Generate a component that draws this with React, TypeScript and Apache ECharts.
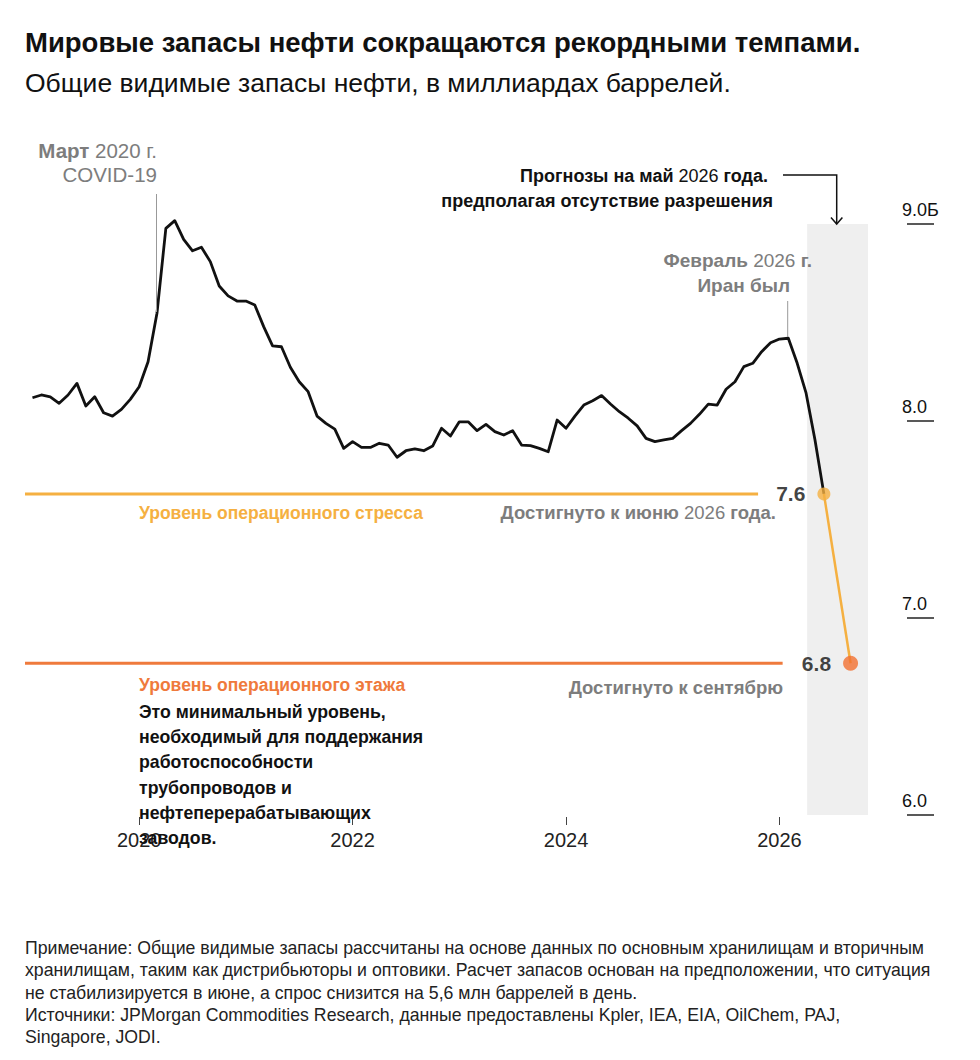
import React, { useEffect, useRef } from "react";
import * as echarts from "echarts";

// ---- Data ----
const startYear = 2019; // monthly series begins Jan 2019
const histValues = [
  // 2019
  8.118, 8.132, 8.123, 8.09, 8.132, 8.191, 8.076, 8.123, 8.042, 8.025, 8.059, 8.11,
  // 2020
  8.174, 8.301, 8.547, 8.978, 9.017, 8.922, 8.864, 8.882, 8.809, 8.685, 8.635, 8.609,
  // 2021
  8.609, 8.589, 8.479, 8.381, 8.377, 8.273, 8.199, 8.149, 8.025, 7.988, 7.959, 7.861,
  // 2022
  7.895, 7.866, 7.866, 7.887, 7.878, 7.816, 7.849, 7.858, 7.849, 7.873, 7.963, 7.924,
  // 2023
  7.996, 7.996, 7.951, 7.983, 7.946, 7.929, 7.951, 7.878, 7.875, 7.861, 7.844, 8.005,
  // 2024
  7.963, 8.025, 8.081, 8.103, 8.129, 8.086, 8.047, 8.014, 7.975, 7.912, 7.895, 7.904,
  // 2025
  7.912, 7.951, 7.988, 8.034, 8.086, 8.081, 8.161, 8.199, 8.276, 8.293, 8.352, 8.397,
  // 2026 (Jan - Jun)
  8.416, 8.42, 8.293, 8.141, 7.904, 7.63,
];
const forecastDates = [2026 + 5 / 12, 2026 + 8 / 12]; // June 2026, September 2026
const forecastValues = [7.63, 6.77];
const forecastLabels = ["7.6", "6.8"];
const stressLevel = 7.63;
const floorLevel = 6.77;
const stressLineEnd = 2025.8;
const floorLineEnd = 2026.03;
const forecastShadeStart = 2026.26;
const xMin = 2018.93;
const xMax = 2026.83;
const xTickYears = [2020, 2022, 2024, 2026];
const yMin = 6;
const yMax = 9;

const FONT = "'Liberation Sans', Arial, sans-serif";
const GREY = "#7d7d7d";
const STRESS = "#F5B041";
const FLOOR = "#EF7A3C";
const FLOOR_DOT = "#F27031";

function txt(x: number, y: number, text: string, o: any = {}) {
  return {
    type: "text",
    x,
    y,
    z: 100,
    silent: true,
    style: {
      text,
      fill: o.fill || "#111",
      fontSize: o.fontSize || 18,
      fontWeight: o.fontWeight || "normal",
      fontFamily: FONT,
      align: o.align || "left",
      verticalAlign: o.verticalAlign || "middle",
      lineHeight: o.lineHeight,
      rich: o.rich,
    },
  };
}

export default function App() {
  const ref = useRef<HTMLDivElement>(null);

  useEffect(() => {
    document.body.style.margin = "0";
    const chart = echarts.init(ref.current!, null, { renderer: "svg" });

    const histData = histValues.map((v, i) => [startYear + i / 12, v]);
    const forecastData = forecastDates.map((d, i) => [d, forecastValues[i]]);

    const richBG = (color: string, size: number) => ({
      b: { fontWeight: "bold", fill: color, color, fontSize: size, fontFamily: FONT },
      n: { fontWeight: "normal", fill: color, color, fontSize: size, fontFamily: FONT },
    });

    const option: any = {
      animation: false,
      backgroundColor: "#ffffff",
      grid: { left: 25, top: 224, width: 843, height: 591, containLabel: false },
      xAxis: {
        type: "value",
        min: xMin,
        max: xMax,
        offset: 2,
        axisLine: { show: false },
        splitLine: { show: false },
        axisTick: {
          show: true,
          customValues: xTickYears,
          length: 8,
          lineStyle: { color: "#444", width: 1 },
        },
        axisLabel: {
          customValues: xTickYears,
          formatter: (v: number) => String(Math.round(v)),
          fontSize: 20,
          fontFamily: FONT,
          color: "#222",
          margin: 13,
        },
      },
      yAxis: {
        type: "value",
        position: "right",
        offset: 39,
        min: yMin,
        max: yMax,
        interval: 1,
        axisLine: { show: false },
        splitLine: { show: false },
        axisTick: { show: true, length: 27, lineStyle: { color: "#222", width: 1.5 } },
        axisLabel: {
          formatter: (v: number) => (v === 9 ? "9.0Б" : v.toFixed(1)),
          fontSize: 18,
          fontFamily: FONT,
          color: "#111",
          align: "left",
          verticalAlign: "bottom",
          lineHeight: 18,
          padding: [0, 0, 5, 0],
          margin: -5,
        },
      },
      series: [
        {
          type: "line",
          name: "stress",
          data: [
            [xMin, stressLevel],
            [stressLineEnd, stressLevel],
          ],
          symbol: "none",
          silent: true,
          lineStyle: { color: STRESS, width: 3 },
          markArea: {
            silent: true,
            itemStyle: { color: "#efefef" },
            label: { show: false },
            data: [[{ xAxis: forecastShadeStart }, { xAxis: xMax }]],
          },
          z: 1,
        },
        {
          type: "line",
          name: "floor",
          data: [
            [xMin, floorLevel],
            [floorLineEnd, floorLevel],
          ],
          symbol: "none",
          silent: true,
          lineStyle: { color: FLOOR, width: 3 },
          z: 2,
        },
        {
          type: "line",
          name: "hist",
          data: histData,
          symbol: "none",
          clip: false,
          silent: true,
          lineStyle: { color: "#111", width: 2.8, join: "round" },
          z: 3,
        },
        {
          type: "line",
          name: "forecast",
          data: forecastData,
          symbol: "none",
          clip: false,
          silent: true,
          lineStyle: { color: STRESS, width: 2.5 },
          z: 4,
        },
        {
          type: "scatter",
          name: "dots",
          silent: true,
          clip: false,
          z: 5,
          data: [
            {
              value: forecastData[0],
              symbolSize: 13,
              itemStyle: { color: STRESS },
              label: { formatter: forecastLabels[0] },
            },
            {
              value: forecastData[1],
              symbolSize: 15,
              itemStyle: { color: FLOOR_DOT },
              label: { formatter: forecastLabels[1] },
            },
          ],
          label: {
            show: true,
            position: "left",
            distance: 12,
            fontSize: 21,
            fontWeight: "bold",
            fontFamily: FONT,
            color: "#111",
          },
        },
      ],
      graphic: [
        // Title & subtitle
        txt(25, 42, "Мировые запасы нефти сокращаются рекордными темпами.", {
          fontSize: 27.5,
          fontWeight: "bold",
        }),
        txt(25, 83, "Общие видимые запасы нефти, в миллиардах баррелей.", {
          fontSize: 26.5,
        }),
        // COVID annotation
        txt(157, 150, "{b|Март} {n|2020 г.}", {
          align: "right",
          fill: GREY,
          fontSize: 20.5,
          rich: richBG(GREY, 20.5),
        }),
        txt(157, 174, "COVID-19", { align: "right", fill: GREY, fontSize: 20.5 }),
        {
          type: "line",
          z: 100,
          silent: true,
          shape: { x1: 156.5, y1: 194, x2: 156.5, y2: 312 },
          style: { stroke: "#999", lineWidth: 1 },
        },
        // Iran annotation
        txt(812, 260, "{b|Февраль} {n|2026} {b|г.}", {
          align: "right",
          fill: GREY,
          fontSize: 19,
          rich: richBG(GREY, 19),
        }),
        txt(790, 285, "Иран был", {
          align: "right",
          fill: GREY,
          fontSize: 19,
          fontWeight: "bold",
        }),
        {
          type: "line",
          z: 100,
          silent: true,
          shape: { x1: 787.7, y1: 301, x2: 787.7, y2: 337 },
          style: { stroke: "#999", lineWidth: 1 },
        },
        // Forecast annotation
        txt(768, 176, "{b|Прогнозы на май} {n|2026} {b|года.}", {
          align: "right",
          fontSize: 18,
          rich: richBG("#111", 18),
        }),
        txt(773, 201, "предполагая отсутствие разрешения", {
          align: "right",
          fontSize: 18,
          fontWeight: "bold",
        }),
        {
          type: "polyline",
          z: 100,
          silent: true,
          shape: {
            points: [
              [783, 175],
              [836.7, 175],
              [836.7, 224],
            ],
          },
          style: { stroke: "#111", lineWidth: 1.5, fill: null },
        },
        {
          type: "polyline",
          z: 100,
          silent: true,
          shape: {
            points: [
              [831, 217.5],
              [836.7, 224],
              [842.4, 217.5],
            ],
          },
          style: { stroke: "#111", lineWidth: 1.5, fill: null },
        },
        // Stress level labels
        txt(139, 513, "Уровень операционного стресса", {
          fill: STRESS,
          fontSize: 17.5,
          fontWeight: "bold",
        }),
        txt(776, 512, "{b|Достигнуто к июню} {n|2026} {b|года.}", {
          align: "right",
          fill: GREY,
          fontSize: 18.5,
          rich: richBG(GREY, 18.5),
        }),
        // Floor level labels
        txt(139, 685, "Уровень операционного этажа", {
          fill: FLOOR,
          fontSize: 17.5,
          fontWeight: "bold",
        }),
        txt(783, 687, "Достигнуто к сентябрю", {
          align: "right",
          fill: GREY,
          fontSize: 18.5,
          fontWeight: "bold",
        }),
        txt(
          139,
          699,
          "Это минимальный уровень,\nнеобходимый для поддержания\nработоспособности\nтрубопроводов и\nнефтеперерабатывающих\nзаводов.",
          {
            fontSize: 17.7,
            fontWeight: "bold",
            lineHeight: 25.3,
            verticalAlign: "top",
          }
        ),
        // Footer
        txt(
          25,
          937,
          "Примечание: Общие видимые запасы рассчитаны на основе данных по основным хранилищам и вторичным\nхранилищам, таким как дистрибьюторы и оптовики. Расчет запасов основан на предположении, что ситуация\nне стабилизируется в июне, а спрос снизится на 5,6 млн баррелей в день.\nИсточники: JPMorgan Commodities Research, данные предоставлены Kpler, IEA, EIA, OilChem, PAJ,\nSingapore, JODI.",
          { fontSize: 17.7, lineHeight: 22.2, verticalAlign: "top", fill: "#222" }
        ),
      ],
    };

    chart.setOption(option);
    return () => chart.dispose();
  }, []);

  return <div ref={ref} style={{ width: 980, height: 1060 }} />;
}
